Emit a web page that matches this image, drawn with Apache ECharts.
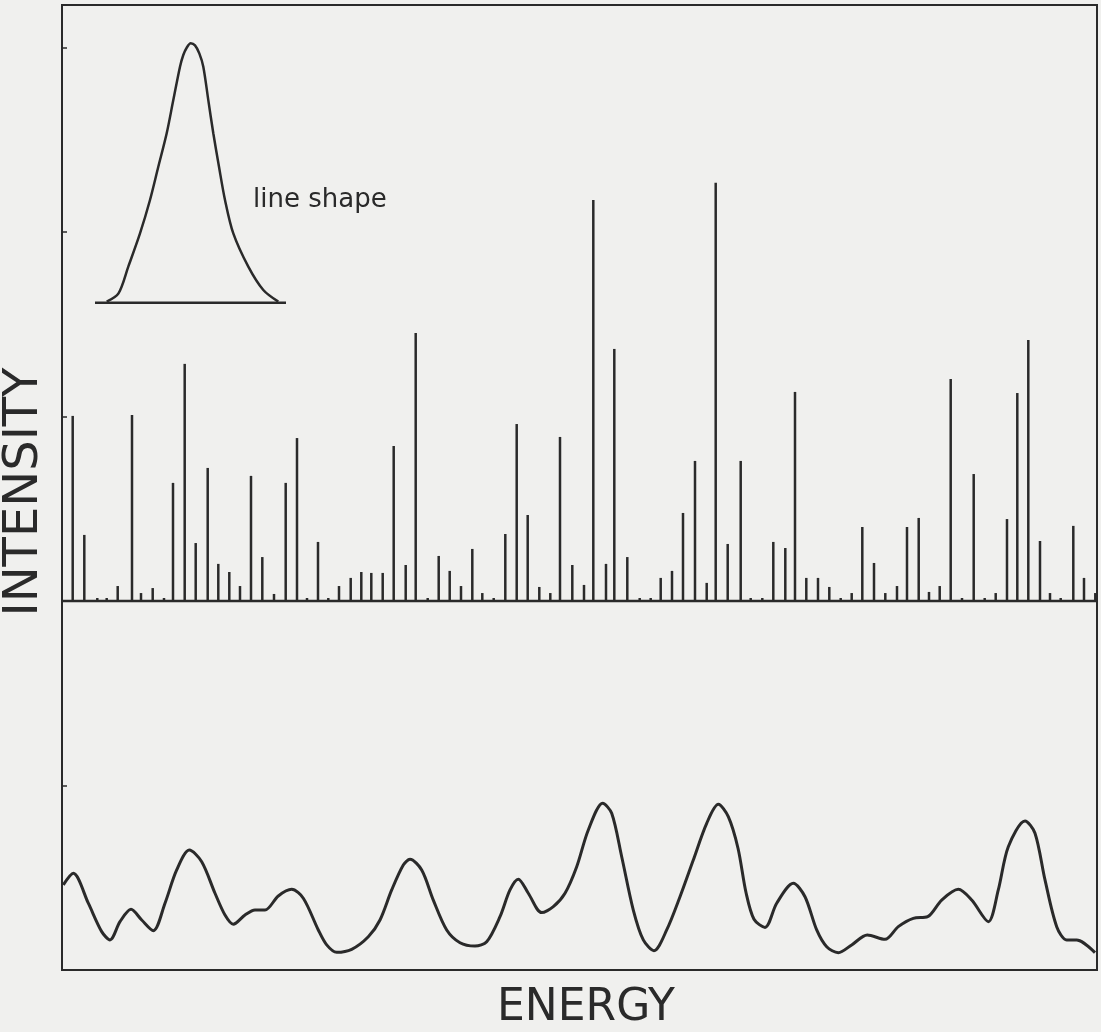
<!DOCTYPE html>
<html>
<head>
<meta charset="utf-8">
<script src="https://cdn.jsdelivr.net/npm/echarts@6/dist/echarts.min.js"></script>
<style>
  html, body { margin: 0; padding: 0; background: #f0f0ee; }
  #chart { width: 1101px; height: 1032px; }
</style>
</head>
<body>
<div id="chart"></div>
<script>
// Stick spectrum: energy positions (arbitrary units) and line intensities above the baseline
var stickEnergy = [10.7, 22.3, 35.3, 44.7, 55.7, 70, 79, 90.7, 102, 111, 122.7, 133.7, 145.7, 156.3, 167.3, 178, 189, 200.3, 212, 223.7, 235, 245, 256, 266.3, 277, 288.7, 299.3, 309.3, 320.7, 331.7, 343.7, 353.7, 365.7, 376.7, 387.7, 399, 410.3, 420.3, 431.7, 443.3, 454.7, 465.7, 477.3, 488.3, 498, 510.3, 522, 531.3, 544, 552.3, 565.3, 577.7, 588.7, 598.7, 610, 621, 633, 644.7, 653.7, 665.7, 678.7, 688.7, 700.3, 711.3, 723.3, 733, 744.3, 756, 767.3, 778.7, 789.7, 800.3, 812, 823.3, 835, 845, 856.7, 867, 877.7, 888.7, 900, 911.7, 922.7, 933.7, 945, 955.3, 966.3, 978, 988, 998.7, 1011.3, 1022, 1033.3];
var stickIntensity = [10.03, 3.58, 0.16, 0.16, 0.81, 10.08, 0.43, 0.70, 0.16, 6.40, 12.85, 3.14, 7.21, 2.01, 1.57, 0.81, 6.78, 2.38, 0.38, 6.40, 8.83, 0.16, 3.20, 0.16, 0.81, 1.25, 1.57, 1.52, 1.52, 8.40, 1.95, 14.53, 0.16, 2.44, 1.63, 0.81, 2.82, 0.43, 0.16, 3.63, 9.59, 4.66, 0.76, 0.43, 8.89, 1.95, 0.87, 21.73, 2.01, 13.66, 2.38, 0.16, 0.16, 1.25, 1.63, 4.77, 7.59, 0.98, 22.66, 3.09, 7.59, 0.16, 0.16, 3.20, 2.87, 11.33, 1.25, 1.25, 0.76, 0.16, 0.43, 4.01, 2.06, 0.43, 0.81, 4.01, 4.50, 0.49, 0.81, 12.03, 0.16, 6.88, 0.16, 0.43, 4.44, 11.27, 14.15, 3.25, 0.43, 0.16, 4.07, 1.25, 0.43];
var stickBaseline = 20;

// Broadened (convolved) spectrum
var curveEnergy = [1.3, 11.3, 26.3, 39.7, 48, 58, 69, 79.7, 91.3, 103, 114.7, 127.3, 139.7, 153, 163, 171.3, 183, 193, 203, 216.3, 229.7, 241.3, 256.3, 264.7, 274.7, 289.7, 306.3, 318, 329.7, 341.3, 348, 359.7, 371.3, 384.7, 398, 413, 424.7, 438, 448, 456.3, 466.3, 479.7, 491.3, 503, 514.7, 526.3, 540.7, 549.7, 559.7, 571.3, 581.3, 592, 604.7, 618, 631.3, 644.7, 656.3, 666.3, 676, 684, 692, 703, 714.7, 731.3, 743, 754.7, 764.7, 776.3, 789.7, 805.3, 823, 836.3, 851.3, 865.7, 879.7, 896.3, 909.7, 926.3, 936.3, 946.3, 963, 973, 983, 994.7, 1004.7, 1014.7, 1033];
var curveIntensity = [4.61, 5.24, 3.62, 2.08, 1.63, 2.62, 3.29, 2.71, 2.13, 3.62, 5.42, 6.50, 5.87, 4.16, 2.98, 2.48, 2.98, 3.25, 3.25, 4.01, 4.37, 3.89, 2.17, 1.36, 0.96, 1.12, 1.80, 2.71, 4.34, 5.69, 6.00, 5.42, 3.79, 2.17, 1.48, 1.30, 1.53, 2.89, 4.34, 4.92, 4.16, 3.11, 3.43, 4.16, 5.60, 7.59, 9.04, 8.49, 6.14, 3.25, 1.63, 1.05, 2.17, 3.97, 5.96, 7.95, 8.98, 8.31, 6.60, 4.20, 2.75, 2.31, 3.62, 4.70, 3.97, 2.17, 1.26, 0.94, 1.36, 1.90, 1.66, 2.35, 2.80, 2.89, 3.79, 4.37, 3.79, 2.62, 4.34, 6.68, 8.08, 7.41, 4.88, 2.35, 1.63, 1.63, 0.94];

// Inset: single line shape (relative units)
var shapeX = [11.7, 23.5, 33.3, 45, 55, 63.3, 71.7, 78.3, 85, 88.3, 91.7, 95.7, 100, 104.3, 108.3, 113.3, 118.3, 124, 130, 138.3, 153.3, 168.3, 183.3];
var shapeY = [0.4, 3.6, 13.9, 26.7, 39.6, 52.4, 65.3, 78.1, 91.0, 95.5, 98.3, 100, 99.2, 96.1, 91.0, 78.1, 65.3, 52.4, 39.6, 26.7, 13.9, 4.9, 0.4];
var shapeBaseX = [0, 191];

var yTickInterval = 10;
var yMax = 52.3;
var xMax = 1035;

var ink = '#2a2a2a';

function zip(a, b) { return a.map(function (v, i) { return [v, b[i]]; }); }

var chart = echarts.init(document.getElementById('chart'), null, { renderer: 'canvas' });

var option = {
  backgroundColor: '#f0f0ee',
  animation: false,
  grid: [
    { left: 62, right: 4, top: 5, bottom: 62, show: true, borderColor: ink, borderWidth: 2, backgroundColor: 'transparent' },
    { left: 95, top: 43.3, width: 191, height: 259.4, show: false }
  ],
  xAxis: [
    { gridIndex: 0, type: 'value', min: 0, max: xMax, show: false },
    { gridIndex: 1, type: 'value', min: 0, max: 191, show: false }
  ],
  yAxis: [
    { gridIndex: 0, type: 'value', min: 0, max: yMax, interval: yTickInterval,
      axisLine: { show: false }, axisLabel: { show: false }, splitLine: { show: false },
      axisTick: { show: true, inside: true, length: 5, lineStyle: { color: ink, width: 1.5 } } },
    { gridIndex: 1, type: 'value', min: 0, max: 100, show: false }
  ],
  series: [
    { type: 'line', xAxisIndex: 0, yAxisIndex: 0, data: [[0, stickBaseline], [xMax, stickBaseline]],
      showSymbol: false, lineStyle: { color: ink, width: 2.5 }, silent: true },
    { type: 'custom', xAxisIndex: 0, yAxisIndex: 0, data: zip(stickEnergy, stickIntensity),
      renderItem: function (params, api) {
        var e = api.value(0), h = api.value(1);
        var p0 = api.coord([e, stickBaseline]);
        var p1 = api.coord([e, stickBaseline + h]);
        return { type: 'line', shape: { x1: p0[0], y1: p0[1], x2: p1[0], y2: p1[1] },
                 style: { stroke: ink, lineWidth: 2.5 } };
      }, silent: true },
    { type: 'line', xAxisIndex: 0, yAxisIndex: 0, data: zip(curveEnergy, curveIntensity),
      smooth: 0.3, showSymbol: false, lineStyle: { color: ink, width: 3 }, silent: true },
    { type: 'line', xAxisIndex: 1, yAxisIndex: 1, data: zip(shapeX, shapeY),
      smooth: 0.3, showSymbol: false, lineStyle: { color: ink, width: 2.5 }, silent: true },
    { type: 'line', xAxisIndex: 1, yAxisIndex: 1, data: [[shapeBaseX[0], 0], [shapeBaseX[1], 0]],
      showSymbol: false, lineStyle: { color: ink, width: 2.5 }, silent: true }
  ],
  graphic: [
    { type: 'text', x: 25, y: 492, rotation: Math.PI / 2,
      style: { text: 'INTENSITY', font: '48px "DejaVu Sans"', fill: ink, align: 'center', verticalAlign: 'middle' } },
    { type: 'text', x: 586, y: 1009,
      style: { text: 'ENERGY', font: '44px "DejaVu Sans"', fill: ink, align: 'center', verticalAlign: 'middle' } },
    { type: 'text', x: 253, y: 200,
      style: { text: 'line shape', font: '26px "DejaVu Sans"', fill: ink, align: 'left', verticalAlign: 'middle' } }
  ]
};
chart.setOption(option);
</script>
</body>
</html>
